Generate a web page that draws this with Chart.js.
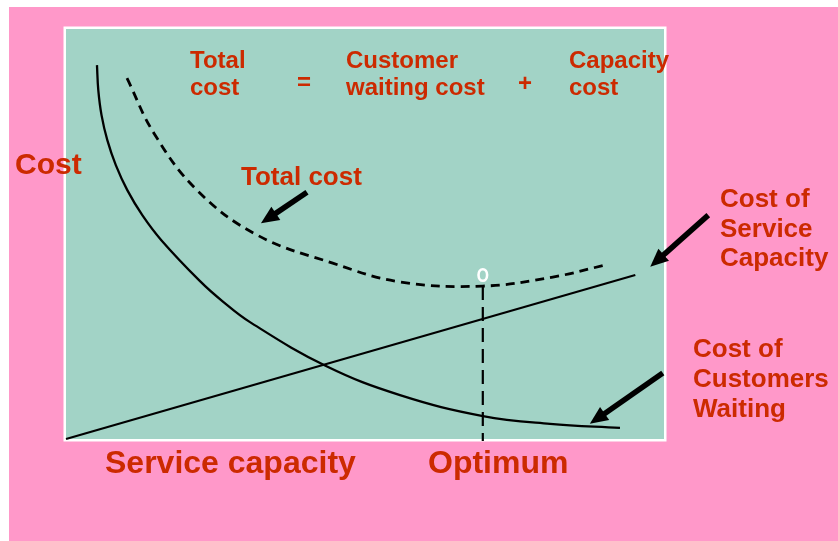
<!DOCTYPE html>
<html>
<head>
<meta charset="utf-8">
<script src="https://cdn.jsdelivr.net/npm/chart.js@4.4.1/dist/chart.umd.min.js"></script>
<style>
  html, body { margin: 0; padding: 0; background: #ffffff; }
  canvas { display: block; }
</style>
</head>
<body>
<canvas id="c" width="838" height="541"></canvas>
<script>
// ---- Data (service capacity on x, cost on y, both in arbitrary 0..100 units) ----
const capacityX      = [0, 95.2];
const capacityCost   = [0, 40.0];

const waitingX       = [5.18, 5.40, 5.94, 6.91, 8.33, 10.25, 12.76, 15.94, 22.41, 26.09, 30.77, 43.48, 55.85, 69.73, 80.94, 92.64];
const waitingCost    = [91.2, 85.1, 79.0, 72.9, 66.8, 60.7, 54.6, 48.5, 38.5, 33.7, 28.5, 17.8, 10.7, 5.6, 3.7, 2.7];

const totalX         = [10.2, 14.7, 21.9, 31.9, 44.6, 55.9, 69.7, 81.4, 90.1];
const totalCost      = [88.0, 74.6, 60.7, 49.8, 42.9, 38.3, 37.3, 39.5, 42.4];

const optimumX       = [69.7, 69.7];
const optimumY       = [37.3, -0.5];
const optimumMarker  = [69.7, 40.0];

// arrows: [tailX, tailY, tipX, tipY] in data units
const arrowTotal     = [40.3, 60.2, 32.6, 52.6];
const arrowCapacity  = [107.4, 54.6, 97.7, 42.0];
const arrowWaiting   = [99.8, 16.1, 87.6, 3.7];

// text
const equationTotal    = ["Total", "cost"];
const equationEquals   = ["="];
const equationWaiting  = ["Customer", "waiting cost"];
const equationPlus     = ["+"];
const equationCapacity = ["Capacity", "cost"];
const yAxisTitle       = ["Cost"];
const totalLabel       = ["Total cost"];
const capacityLabel    = ["Cost of", "Service", "Capacity"];
const waitingLabel     = ["Cost of", "Customers", "Waiting"];
const xAxisTitle       = ["Service capacity"];
const optimumLabel     = ["Optimum"];

const pts = (xs, ys) => xs.map((x, i) => ({ x: x, y: ys[i] }));

const RED = '#CC2A00';
const FONT = '"Liberation Sans", Arial, Helvetica, sans-serif';

const textLayout = [
  { lines: equationTotal,    x: 190, y: 68,  size: 24, lh: 27 },
  { lines: equationEquals,   x: 297, y: 90,  size: 24, lh: 27 },
  { lines: equationWaiting,  x: 346, y: 68,  size: 24, lh: 27 },
  { lines: equationPlus,     x: 518, y: 91,  size: 24, lh: 27 },
  { lines: equationCapacity, x: 569, y: 68,  size: 24, lh: 27 },
  { lines: yAxisTitle,       x: 15,  y: 174, size: 30, lh: 30 },
  { lines: totalLabel,       x: 241, y: 185, size: 26, lh: 30 },
  { lines: capacityLabel,    x: 720, y: 207, size: 26, lh: 29.5 },
  { lines: waitingLabel,     x: 693, y: 357, size: 26, lh: 30 },
  { lines: xAxisTitle,       x: 105, y: 473, size: 32, lh: 32 },
  { lines: optimumLabel,     x: 428, y: 473, size: 32, lh: 32 }
];

const backgroundPlugin = {
  id: 'bg',
  beforeDraw(chart) {
    const ctx = chart.ctx, a = chart.chartArea;
    ctx.save();
    ctx.fillStyle = '#ffffff';
    ctx.fillRect(0, 0, chart.width, chart.height);
    ctx.fillStyle = '#FF98C9';
    ctx.fillRect(9, 7, chart.width - 9, chart.height - 7);
    ctx.fillStyle = '#A2D3C6';
    ctx.fillRect(a.left, a.top, a.right - a.left, a.bottom - a.top);
    ctx.strokeStyle = '#ffffff';
    ctx.lineWidth = 2.5;
    ctx.strokeRect(a.left - 1.25, a.top - 1.25, a.right - a.left + 2.5, a.bottom - a.top + 2.5);
    ctx.restore();
  }
};

function drawArrow(ctx, x0, y0, x1, y1) {
  const ang = Math.atan2(y1 - y0, x1 - x0);
  const headLen = 18, headHalf = 8;
  const bx = x1 - headLen * Math.cos(ang), by = y1 - headLen * Math.sin(ang);
  ctx.beginPath();
  ctx.moveTo(x0, y0);
  ctx.lineTo(bx + 2 * Math.cos(ang), by + 2 * Math.sin(ang));
  ctx.lineWidth = 5.5;
  ctx.lineCap = 'butt';
  ctx.strokeStyle = '#000';
  ctx.stroke();
  ctx.beginPath();
  ctx.moveTo(x1, y1);
  ctx.lineTo(bx + headHalf * Math.sin(ang), by - headHalf * Math.cos(ang));
  ctx.lineTo(bx - headHalf * Math.sin(ang), by + headHalf * Math.cos(ang));
  ctx.closePath();
  ctx.fillStyle = '#000';
  ctx.fill();
}

const overlayPlugin = {
  id: 'overlay',
  afterDraw(chart) {
    const ctx = chart.ctx, xs = chart.scales.x, ys = chart.scales.y;
    ctx.save();
    // optimum marker
    const mx = xs.getPixelForValue(optimumMarker[0]), my = ys.getPixelForValue(optimumMarker[1]);
    ctx.beginPath();
    ctx.ellipse(mx, my, 4.3, 5.8, 0, 0, Math.PI * 2);
    ctx.strokeStyle = '#ffffff';
    ctx.lineWidth = 2.6;
    ctx.stroke();
    // arrows
    [arrowTotal, arrowCapacity, arrowWaiting].forEach(a => {
      drawArrow(ctx, xs.getPixelForValue(a[0]), ys.getPixelForValue(a[1]),
                     xs.getPixelForValue(a[2]), ys.getPixelForValue(a[3]));
    });
    // text
    ctx.fillStyle = RED;
    ctx.textAlign = 'left';
    ctx.textBaseline = 'alphabetic';
    textLayout.forEach(t => {
      ctx.font = 'bold ' + t.size + 'px ' + FONT;
      t.lines.forEach((s, i) => ctx.fillText(s, t.x, t.y + i * t.lh));
    });
    ctx.restore();
  }
};

new Chart(document.getElementById('c'), {
  type: 'scatter',
  data: {
    datasets: [
      {
        label: 'Cost of Service Capacity',
        data: pts(capacityX, capacityCost),
        showLine: true, borderColor: '#000', borderWidth: 2.2,
        pointRadius: 0, clip: false
      },
      {
        label: 'Cost of Customers Waiting',
        data: pts(waitingX, waitingCost),
        showLine: true, borderColor: '#000', borderWidth: 2.3,
        tension: 0.4,
        pointRadius: 0, clip: false
      },
      {
        label: 'Total cost',
        data: pts(totalX, totalCost),
        showLine: true, borderColor: '#000', borderWidth: 2.8,
        borderDash: [9, 6],
        tension: 0.4,
        pointRadius: 0, clip: false
      },
      {
        label: 'Optimum',
        data: pts(optimumX, optimumY),
        showLine: true, borderColor: '#000', borderWidth: 2.2,
        borderDash: [14, 7],
        pointRadius: 0, clip: false
      }
    ]
  },
  options: {
    responsive: false,
    animation: false,
    devicePixelRatio: 1,
    layout: { padding: { left: 66, right: 174, top: 29, bottom: 102 } },
    plugins: { legend: { display: false }, tooltip: { enabled: false } },
    scales: {
      x: { type: 'linear', min: 0, max: 100, display: false },
      y: { type: 'linear', min: 0, max: 100, display: false }
    }
  },
  plugins: [backgroundPlugin, overlayPlugin]
});
</script>
</body>
</html>
